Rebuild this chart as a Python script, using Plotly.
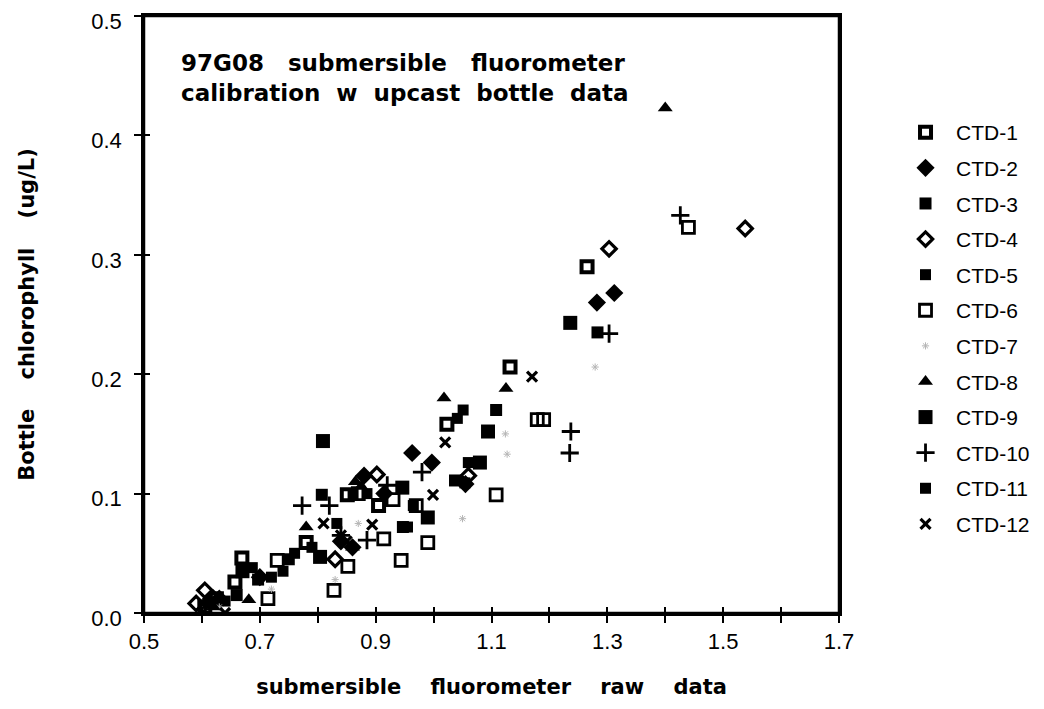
import plotly.graph_objects as go

NB = "\u00a0"

# ---- data ----
ctd1_x = [1.265, 1.132, 1.023, 0.851, 0.78, 0.669, 0.657, 0.905, 0.625, 0.605]
ctd1_y = [0.29, 0.206, 0.158, 0.099, 0.059, 0.046, 0.026, 0.09, 0.012, 0.005]

ctd2_x = [1.312, 1.282, 0.963, 0.997, 1.055, 0.915, 0.84, 0.86, 0.70, 0.63, 0.88]
ctd2_y = [0.268, 0.26, 0.134, 0.126, 0.108, 0.10, 0.06, 0.055, 0.03, 0.012, 0.115]

ctd3_x = [1.283, 1.108, 1.037, 0.807, 0.947, 0.697, 0.75, 0.66]
ctd3_y = [0.235, 0.17, 0.111, 0.099, 0.072, 0.028, 0.045, 0.015]

ctd4_x = [1.538, 1.303, 0.902, 1.06, 0.605, 0.59, 0.62, 0.83]
ctd4_y = [0.322, 0.305, 0.116, 0.115, 0.019, 0.008, 0.012, 0.045]

ctd5_x = [1.051, 1.054, 0.861, 0.833, 0.965, 0.76, 0.72, 0.64]
ctd5_y = [0.17, 0.109, 0.10, 0.075, 0.09, 0.05, 0.03, 0.01]

ctd6_x = [1.44, 1.179, 1.19, 1.108, 0.99, 0.944, 0.914, 0.852, 0.828, 0.714, 0.73, 0.93, 0.87, 0.97]
ctd6_y = [0.323, 0.162, 0.162, 0.099, 0.059, 0.044, 0.062, 0.039, 0.019, 0.012, 0.044, 0.095, 0.10, 0.09]

ctd7_x = [1.279, 1.124, 1.127, 0.83, 1.05, 0.87, 0.72, 0.63]
ctd7_y = [0.206, 0.15, 0.133, 0.028, 0.079, 0.075, 0.02, 0.005]

ctd8_x = [1.40, 1.125, 1.018, 0.875, 0.865, 0.78, 0.681, 0.86, 0.62]
ctd8_y = [0.423, 0.188, 0.18, 0.106, 0.11, 0.072, 0.011, 0.055, 0.005]

ctd9_x = [1.236, 1.094, 1.08, 0.809, 0.946, 0.804, 0.99, 0.67]
ctd9_y = [0.243, 0.152, 0.126, 0.144, 0.105, 0.047, 0.08, 0.035]

ctd10_x = [1.426, 1.303, 1.237, 1.235, 0.773, 0.82, 0.885, 0.98, 0.92, 0.84]
ctd10_y = [0.333, 0.234, 0.152, 0.134, 0.09, 0.09, 0.061, 0.118, 0.107, 0.065]

ctd11_x = [1.041, 1.06, 0.885, 0.687, 0.955, 0.79, 0.74, 0.61]
ctd11_y = [0.163, 0.126, 0.10, 0.038, 0.072, 0.055, 0.035, 0.008]

ctd12_x = [1.17, 1.02, 0.999, 0.894, 0.81, 0.84, 0.64, 0.60, 0.85]
ctd12_y = [0.198, 0.143, 0.099, 0.074, 0.075, 0.065, 0.0, 0.0, 0.06]

series_names = ["CTD-1", "CTD-2", "CTD-3", "CTD-4", "CTD-5", "CTD-6",
                "CTD-7", "CTD-8", "CTD-9", "CTD-10", "CTD-11", "CTD-12"]
series_x = [ctd1_x, ctd2_x, ctd3_x, ctd4_x, ctd5_x, ctd6_x,
            ctd7_x, ctd8_x, ctd9_x, ctd10_x, ctd11_x, ctd12_x]
series_y = [ctd1_y, ctd2_y, ctd3_y, ctd4_y, ctd5_y, ctd6_y,
            ctd7_y, ctd8_y, ctd9_y, ctd10_y, ctd11_y, ctd12_y]

x_tickvals = [0.5, 0.6, 0.7, 0.8, 0.9, 1.0, 1.1, 1.2, 1.3, 1.4, 1.5, 1.6, 1.7]
x_ticktext = ["0.5", "", "0.7", "", "0.9", "", "1.1", "", "1.3", "", "1.5", "", "1.7"]
y_tickvals = [0.0, 0.1, 0.2, 0.3, 0.4, 0.5]
y_ticktext = ["0.0", "0.1", "0.2", "0.3", "0.4", "0.5"]

# ---- marker styles ----
BLACK = "#000000"
styles = [
    dict(symbol="square-open", size=11, color=BLACK, line=dict(width=4, color=BLACK)),
    dict(symbol="diamond", size=14, color=BLACK, line=dict(width=0)),
    dict(symbol="square", size=12, color=BLACK, line=dict(width=0)),
    dict(symbol="diamond-open", size=11, color=BLACK, line=dict(width=3.2, color=BLACK)),
    dict(symbol="square", size=11, color=BLACK, line=dict(width=0)),
    dict(symbol="square-open", size=12, color=BLACK, line=dict(width=2.8, color=BLACK)),
    dict(symbol="asterisk-open", size=6, color="#b5b5b5", line=dict(width=1, color="#b5b5b5")),
    dict(symbol="triangle-up", size=13, color=BLACK, line=dict(width=0)),
    dict(symbol="square", size=14, color=BLACK, line=dict(width=0)),
    dict(symbol="cross-thin-open", size=13, color=BLACK, line=dict(width=2.8, color=BLACK)),
    dict(symbol="square", size=11, color=BLACK, line=dict(width=0)),
    dict(symbol="x-thin-open", size=10, color=BLACK, line=dict(width=3.2, color=BLACK)),
]

fig = go.Figure()
for name, xs, ys, st in zip(series_names, series_x, series_y, styles):
    fig.add_trace(go.Scatter(x=xs, y=ys, mode="markers", name=name,
                             legendgroup=name, marker=st))

# second (overlay) axes carry inward ticks so ticks cross the axis lines
fig.add_trace(go.Scatter(x=[None], y=[None], xaxis="x2", yaxis="y2",
                         showlegend=False, hoverinfo="skip"))

TICKFONT = dict(family="Liberation Sans, Arial, sans-serif", size=22, color=BLACK)
TITLEFONT = dict(family="DejaVu Sans, sans-serif", size=21, color=BLACK)
G = NB * 4
G1 = NB * 3
G2 = NB * 2

fig.update_layout(
    width=1044, height=709,
    paper_bgcolor="white", plot_bgcolor="white",
    margin=dict(l=136, r=213, t=8, b=104, autoexpand=False),
    showlegend=True,
    legend=dict(x=1.0806, y=0.839, xanchor="left", yanchor="top",
                font=dict(family="Liberation Sans, Arial, sans-serif", size=21, color=BLACK),
                tracegroupgap=5.3, itemwidth=51, bgcolor="rgba(0,0,0,0)", itemclick=False),
    xaxis=dict(range=[0.5, 1.7], tickmode="array", tickvals=x_tickvals, ticktext=x_ticktext,
               ticks="outside", ticklen=7, tickwidth=2, tickcolor=BLACK,
               showline=True, linewidth=2.5, linecolor=BLACK, mirror=True,
               showgrid=False, zeroline=False, tickfont=TICKFONT, automargin=False,
               ticklabelstandoff=0, ticklabeloverflow="allow",
               title=dict(text="<b>submersible" + G + "fluorometer" + G + "raw" + G + "data</b>",
                          font=TITLEFONT, standoff=27)),
    yaxis=dict(range=[0.0, 0.5], tickmode="array", tickvals=y_tickvals, ticktext=y_ticktext,
               ticks="outside", ticklen=7, tickwidth=2, tickcolor=BLACK,
               showline=True, linewidth=2.5, linecolor=BLACK, mirror=True,
               showgrid=False, zeroline=False, tickfont=TICKFONT, automargin=False,
               ticklabelstandoff=8, ticklabelshift=5, ticklabeloverflow="allow",
               title=dict(text="<b>Bottle" + G + "chlorophyll" + G + "(ug/L)</b>",
                          font=TITLEFONT, standoff=51)),
    xaxis2=dict(range=[0.5, 1.7], overlaying="x", tickmode="array", tickvals=x_tickvals,
                ticks="inside", ticklen=6, tickwidth=2, tickcolor=BLACK, automargin=False,
                showticklabels=False, showline=False, showgrid=False, zeroline=False,
                side="bottom"),
    yaxis2=dict(range=[0.0, 0.5], overlaying="y", tickmode="array", tickvals=y_tickvals,
                ticks="inside", ticklen=6, tickwidth=2, tickcolor=BLACK, automargin=False,
                showticklabels=False, showline=False, showgrid=False, zeroline=False,
                side="left"),
    shapes=[dict(type="rect", xref="paper", yref="paper", x0=0, x1=1, y0=0, y1=1,
                 line=dict(color=BLACK, width=2.5), fillcolor="rgba(0,0,0,0)", layer="above")],
    annotations=[dict(
        text="<b>97G08" + G1 + "submersible" + G1 + "fluorometer<br>"
             "calibration" + G2 + "w" + G2 + "upcast" + G2 + "bottle" + G2 + "data</b>",
        xref="paper", yref="paper", x=0.05, y=0.947, xanchor="left", yanchor="top",
        align="left", showarrow=False,
        font=dict(family="DejaVu Sans, sans-serif", size=23, color=BLACK))],
)

fig.write_html("out.html")
